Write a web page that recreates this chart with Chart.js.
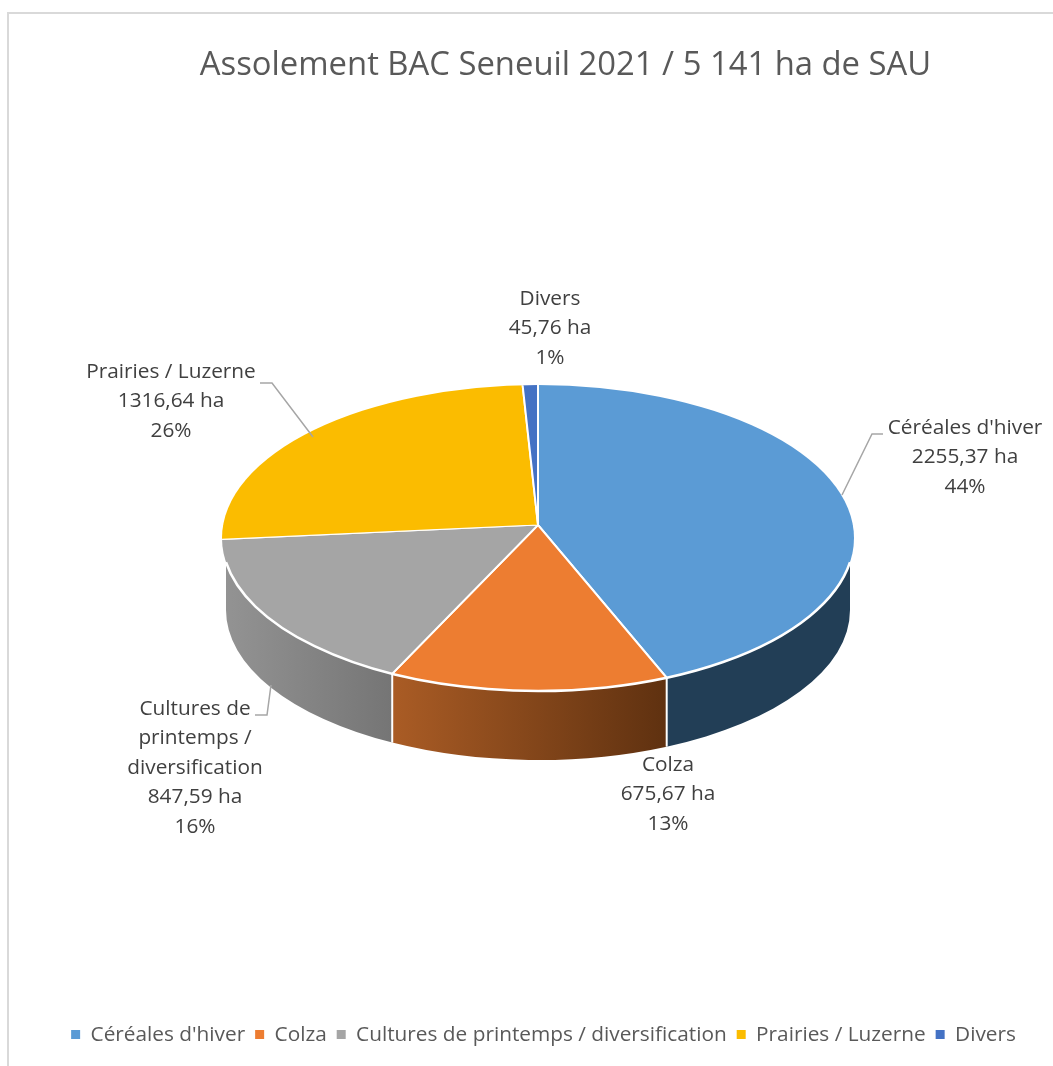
<!DOCTYPE html>
<html lang="fr">
<head>
<meta charset="utf-8">
<title>Assolement BAC Seneuil 2021</title>
<script src="https://cdn.jsdelivr.net/npm/chart.js@4"></script>
<style>
  html, body { margin: 0; padding: 0; background: #fff; overflow: hidden; }
  #wrap { position: relative; width: 1053px; height: 1066px; }
  #frame { position: absolute; left: 7px; top: 12px; right: 0; bottom: 0;
           border-left: 2px solid #d9d9d9; border-top: 2px solid #d9d9d9; }
  canvas { position: absolute; left: 0; top: 0; }
</style>
</head>
<body>
<div id="wrap">
  <div id="frame"></div>
  <canvas id="assolement" width="1053" height="1066"></canvas>
</div>
<script>
const chartTitle = "Assolement BAC Seneuil 2021 / 5 141 ha de SAU";
const categories = ["Céréales d'hiver", "Colza", "Cultures de printemps / diversification", "Prairies / Luzerne", "Divers"];
const surfaces = [2255.37, 675.67, 847.59, 1316.64, 45.76];
const sliceColors = ['#5b9bd5', '#ed7d31', '#a5a5a5', '#fbbc00', '#4472c4'];
// shaded side of the pie, left and right colour of each slice
const wallColors = [['#223e56', '#223e56'], ['#aa5c25', '#5f3110'], ['#939393', '#757575'], null, null];

// the tilted disc: outline, and the point the slices meet at
const disc = { x: 538, y: 538, rx: 316, ry: 153 };
const apex = { x: 538, y: 525, upper: [275, 140], lower: [345, 166] };
const base = { x: 538, y: 610, rx: 312, ry: 150 };
const overshoot = 1.3; // slices are drawn too big, the disc outline clips them

// data labels, wrapped like the reference
const labelLines = [["Céréales d'hiver"], ["Colza"], ["Cultures de", "printemps /", "diversification"], ["Prairies / Luzerne"], ["Divers"]];
const labelPos = [[965, 428], [668, 765], [195, 709], [171, 372], [550, 299]];
const leaders = [
  [[842, 495], [872, 434], [883, 434]],
  null,
  [[271, 685], [267, 715], [255, 715]],
  [[313, 437], [272, 383], [260, 383]],
  null
];
const labelFont = '20.8px "Open Sans"';
const lineHeight = 29.5;

const total = surfaces.reduce((a, b) => a + b, 0);

// x offset from the disc centre where a slice edge leaves the disc
function edgeX(angle) {
  const c = Math.cos(angle) * apex.lower[0], s = Math.sin(angle) * apex.lower[1], d = apex.y - disc.y;
  const A = (c * c) / (disc.rx * disc.rx) + (s * s) / (disc.ry * disc.ry);
  const B = 2 * d * s / (disc.ry * disc.ry);
  const C = (d * d) / (disc.ry * disc.ry) - 1;
  const t = (-B + Math.sqrt(B * B - 4 * A * C)) / (2 * A);
  return Math.max(-base.rx, Math.min(base.rx, c * t));
}

const pie3d = {
  id: 'pie3d',
  afterLayout(chart) {
    // title and legend are not centred on the page in the reference
    chart.titleBlock.left += 39; chart.titleBlock.right += 39;
    chart.legend.left += 17; chart.legend.right += 17;
  },
  beforeDatasetDraw(chart, args) {
    const ctx = chart.ctx, meta = args.meta;

    // side wall first
    meta.data.forEach((arc, i) => {
      const a0 = Math.max(arc.startAngle, 0), a1 = Math.min(arc.endAngle, Math.PI);
      if (a0 >= a1 || !wallColors[i]) return;
      const xr = edgeX(a0), xl = edgeX(a1);
      if (xr - xl < 1) return;
      const grad = ctx.createLinearGradient(disc.x + xl, 0, disc.x + xr, 0);
      grad.addColorStop(0, wallColors[i][0]);
      grad.addColorStop(1, wallColors[i][1]);
      ctx.save();
      ctx.beginPath();
      ctx.ellipse(disc.x, disc.y, disc.rx, disc.ry, 0, Math.acos(xr / disc.rx), Math.acos(xl / disc.rx));
      ctx.ellipse(base.x, base.y, base.rx, base.ry, 0, Math.acos(xl / base.rx), Math.acos(xr / base.rx), true);
      ctx.closePath();
      ctx.fillStyle = grad;
      ctx.fill();
      ctx.restore();
    });
    // white seams between wall sections
    ctx.save();
    ctx.strokeStyle = '#fff';
    ctx.lineWidth = 2;
    meta.data.forEach(arc => {
      if (arc.endAngle <= 0 || arc.endAngle >= Math.PI * 0.95) return;
      const x = edgeX(arc.endAngle);
      ctx.beginPath();
      ctx.moveTo(disc.x + x, disc.y + disc.ry * Math.sqrt(1 - (x * x) / (disc.rx * disc.rx)));
      ctx.lineTo(base.x + x, base.y + base.ry * Math.sqrt(1 - (x * x) / (base.rx * base.rx)));
      ctx.stroke();
    });
    ctx.restore();

    // top face: upper and lower part have their own flattening
    const arc0 = meta.data[0];
    [[apex.upper, -1], [apex.lower, 1]].forEach(([size, side]) => {
      ctx.save();
      ctx.beginPath();
      ctx.ellipse(disc.x, disc.y, disc.rx, disc.ry, 0, 0, Math.PI * 2);
      ctx.clip();
      ctx.beginPath();
      if (side < 0) ctx.rect(0, 0, chart.width, apex.y + 0.5);
      else ctx.rect(0, apex.y, chart.width, chart.height - apex.y);
      ctx.clip();
      ctx.translate(apex.x, apex.y);
      ctx.scale(size[0] * overshoot / arc0.outerRadius, size[1] * overshoot / arc0.outerRadius);
      ctx.translate(-arc0.x, -arc0.y);
      meta.controller.draw();
      ctx.restore();
    });

    // white rim where the top face meets the wall
    const t = Math.acos(base.rx / disc.rx);
    ctx.save();
    ctx.strokeStyle = '#fff';
    ctx.lineWidth = 2.5;
    ctx.beginPath();
    ctx.ellipse(disc.x, disc.y, disc.rx, disc.ry, 0, t, Math.PI - t);
    ctx.stroke();
    ctx.restore();
    return false;
  },
  afterDraw(chart) {
    const ctx = chart.ctx;
    ctx.save();
    // leader lines
    ctx.strokeStyle = '#a6a6a6';
    ctx.lineWidth = 1.5;
    leaders.forEach(pts => {
      if (!pts) return;
      ctx.beginPath();
      pts.forEach((p, k) => k ? ctx.lineTo(p[0], p[1]) : ctx.moveTo(p[0], p[1]));
      ctx.stroke();
    });
    // data labels
    ctx.fillStyle = '#404040';
    ctx.font = labelFont;
    ctx.textAlign = 'center';
    ctx.textBaseline = 'middle';
    surfaces.forEach((v, i) => {
      const lines = labelLines[i].concat([
        v.toFixed(2).replace('.', ',') + ' ha',
        Math.round(v / total * 100) + '%'
      ]);
      lines.forEach((txt, k) => ctx.fillText(txt, labelPos[i][0], labelPos[i][1] + k * lineHeight));
    });
    ctx.restore();
  }
};

new Chart(document.getElementById('assolement'), {
  type: 'pie',
  data: {
    labels: categories,
    datasets: [{
      data: surfaces,
      backgroundColor: sliceColors,
      borderColor: '#fff',
      borderWidth: 2.5
    }]
  },
  options: {
    responsive: false,
    animation: false,
    events: [],
    layout: { padding: { top: 46, bottom: 11 } },
    plugins: {
      title: {
        display: true,
        text: chartTitle,
        color: '#595959',
        font: { family: '"Open Sans"', size: 32.8, weight: 'normal' },
        padding: { top: 0, bottom: 20 }
      },
      legend: {
        position: 'bottom',
        labels: {
          color: '#595959',
          font: { family: '"Open Sans"', size: 20.8 },
          boxWidth: 9,
          boxHeight: 9,
          padding: 10,
          generateLabels(chart) {
            return Chart.overrides.pie.plugins.legend.labels.generateLabels(chart)
              .map(item => ({ ...item, lineWidth: 0 }));
          }
        }
      },
      tooltip: { enabled: false }
    }
  },
  plugins: [pie3d]
});
</script>
</body>
</html>
